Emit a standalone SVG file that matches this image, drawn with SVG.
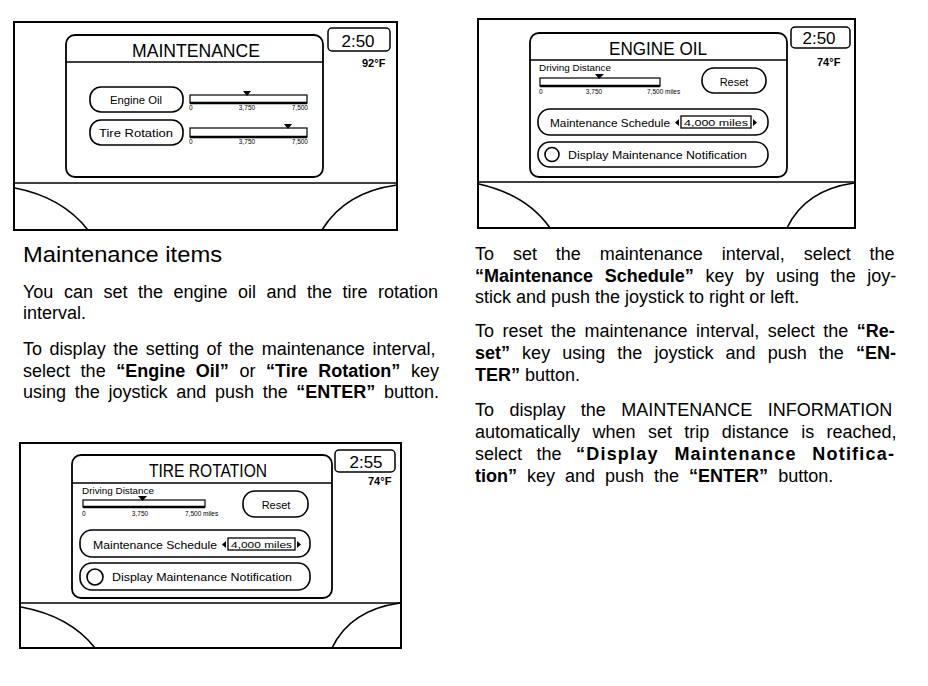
<svg xmlns="http://www.w3.org/2000/svg" width="928" height="686" viewBox="0 0 928 686">
<style>
text{font-family:"Liberation Sans",Arial,Helvetica,sans-serif;fill:#000}
.frame{fill:#fff;stroke:#000;stroke-width:2}
.panel{fill:none;stroke:#000;stroke-width:1.8}
.btn{fill:#fff;stroke:#000;stroke-width:1.6}
.ln{stroke:#000;stroke-width:1.6;fill:none}
.bar{fill:#fff;stroke:#000;stroke-width:1.2}
.barb{stroke:#000;stroke-width:2.4}
.clk{fill:#fff;stroke:#000;stroke-width:1.5}
.title{font-size:18px}
.time{font-size:17px}
.temp{font-size:11px;font-weight:bold}
.bt{font-size:11px}
.sm{font-size:6.5px}
.dd{font-size:9px}
.body{font-size:18px}
.head{font-size:22px}
.b{font-weight:bold}
</style>
<rect width="928" height="686" fill="#fff"/>

<g id="screen-maintenance">
  <rect class="frame" x="14" y="22" width="383" height="208"/>
  <line class="ln" x1="14" y1="183" x2="397" y2="183"/>
  <path class="ln" d="M15,188 Q62,197 88,230"/>
  <path class="ln" d="M322,230 Q345,192 397,185"/>
  <rect class="panel" x="66" y="35" width="257" height="142" rx="9"/>
  <line class="ln" x1="66" y1="62" x2="323" y2="62"/>
  <text class="title" x="196" y="57" text-anchor="middle" textLength="128" lengthAdjust="spacingAndGlyphs">MAINTENANCE</text>
  <rect class="clk" x="328" y="28" width="62" height="23" rx="4"/>
  <text class="time" x="358" y="47" text-anchor="middle">2:50</text>
  <text class="temp" x="362" y="67">92°F</text>
  <g id="btn-engine-oil">
    <rect class="btn" x="90" y="87" width="93" height="25" rx="11"/>
    <text class="bt" x="136" y="104" text-anchor="middle" textLength="52" lengthAdjust="spacingAndGlyphs">Engine Oil</text>
  </g>
  <g id="bar-engine-oil">
    <rect class="bar" x="190" y="95" width="117" height="8"/>
    <line class="barb" x1="190" y1="103" x2="307" y2="103"/>
    <polygon points="243,91 251,91 247,96"/>
    <text class="sm" x="189" y="110">0</text>
    <text class="sm" x="247" y="110" text-anchor="middle">3,750</text>
    <text class="sm" x="308" y="110" text-anchor="end">7,500</text>
  </g>
  <g id="btn-tire-rotation">
    <rect class="btn" x="90" y="120" width="93" height="25" rx="11"/>
    <text class="bt" x="136" y="137" text-anchor="middle" textLength="74" lengthAdjust="spacingAndGlyphs">Tire Rotation</text>
  </g>
  <g id="bar-tire-rotation">
    <rect class="bar" x="190" y="128" width="117" height="9"/>
    <line class="barb" x1="190" y1="137" x2="307" y2="137"/>
    <polygon points="284,124 292,124 288,129"/>
    <text class="sm" x="189" y="144">0</text>
    <text class="sm" x="247" y="144" text-anchor="middle">3,750</text>
    <text class="sm" x="308" y="144" text-anchor="end">7,500</text>
  </g>
</g>

<g id="screen-engine-oil">
  <rect class="frame" x="478" y="19" width="377" height="209"/>
  <line class="ln" x1="478" y1="182" x2="855" y2="182"/>
  <path class="ln" d="M479,184 Q527,195 550,228"/>
  <path class="ln" d="M787,228 Q805,190 854,183"/>
  <rect class="panel" x="530" y="33" width="257" height="144" rx="9"/>
  <line class="ln" x1="530" y1="60" x2="787" y2="60"/>
  <text class="title" x="658" y="55" text-anchor="middle" textLength="98" lengthAdjust="spacingAndGlyphs">ENGINE OIL</text>
  <rect class="clk" x="791" y="27" width="59" height="21" rx="4"/>
  <text class="time" x="819" y="44" text-anchor="middle">2:50</text>
  <text class="temp" x="817" y="66">74°F</text>
  <text class="dd" x="539" y="71" textLength="72" lengthAdjust="spacingAndGlyphs">Driving Distance</text>
  <g id="bar-eo">
    <rect class="bar" x="540" y="78" width="120" height="8"/>
    <line class="barb" x1="540" y1="86" x2="660" y2="86"/>
    <polygon points="595,74 604,74 599,79"/>
    <text class="sm" x="539" y="94">0</text>
    <text class="sm" x="594" y="94" text-anchor="middle">3,750</text>
    <text class="sm" x="647" y="94">7,500 miles</text>
  </g>
  <g id="btn-reset-eo">
    <rect class="btn" x="702" y="68" width="64" height="25" rx="12"/>
    <text class="bt" x="734" y="86" text-anchor="middle">Reset</text>
  </g>
  <g id="btn-schedule-eo">
    <rect class="btn" x="538" y="109" width="230" height="26" rx="12"/>
    <text class="bt" x="550" y="127" textLength="120" lengthAdjust="spacingAndGlyphs">Maintenance Schedule</text>
    <polygon points="679,119 679,126 675,122.5"/>
    <rect x="681" y="116" width="70" height="12" fill="#fff" stroke="#000" stroke-width="1.3"/>
    <text x="684" y="126" font-size="9.5px" textLength="64" lengthAdjust="spacingAndGlyphs">4,000 miles</text>
    <polygon points="753,119 753,126 757,122.5"/>
  </g>
  <g id="btn-notify-eo">
    <rect class="btn" x="538" y="142" width="230" height="25" rx="12"/>
    <circle cx="552" cy="154.5" r="7" fill="#fff" stroke="#000" stroke-width="1.6"/>
    <text class="bt" x="568" y="159" textLength="179" lengthAdjust="spacingAndGlyphs">Display Maintenance Notification</text>
  </g>
</g>

<g id="screen-tire-rotation">
  <rect class="frame" x="20" y="443" width="381" height="205"/>
  <line class="ln" x1="20" y1="603" x2="401" y2="603"/>
  <path class="ln" d="M21,607 Q70,616 95,648"/>
  <path class="ln" d="M332,648 Q350,610 400,603"/>
  <rect class="panel" x="72" y="455" width="260" height="143" rx="9"/>
  <line class="ln" x1="72" y1="483" x2="332" y2="483"/>
  <text class="title" x="208" y="477" text-anchor="middle" textLength="118" lengthAdjust="spacingAndGlyphs">TIRE ROTATION</text>
  <rect class="clk" x="335" y="450" width="60" height="22" rx="4"/>
  <text class="time" x="366" y="468" text-anchor="middle">2:55</text>
  <text class="temp" x="368" y="485">74°F</text>
  <text class="dd" x="82" y="494" textLength="72" lengthAdjust="spacingAndGlyphs">Driving Distance</text>
  <g id="bar-tr">
    <rect class="bar" x="83" y="500" width="122" height="7"/>
    <line class="barb" x1="83" y1="507" x2="205" y2="507"/>
    <polygon points="138,496 147,496 142.5,501"/>
    <text class="sm" x="82" y="516">0</text>
    <text class="sm" x="140" y="516" text-anchor="middle">3,750</text>
    <text class="sm" x="185" y="516">7,500 miles</text>
  </g>
  <g id="btn-reset-tr">
    <rect class="btn" x="243" y="491" width="65" height="26" rx="12"/>
    <text class="bt" x="276" y="509" text-anchor="middle">Reset</text>
  </g>
  <g id="btn-schedule-tr">
    <rect class="btn" x="80" y="530" width="230" height="27" rx="12"/>
    <text class="bt" x="93" y="549" textLength="124" lengthAdjust="spacingAndGlyphs">Maintenance Schedule</text>
    <polygon points="226,541 226,548 222,544.5"/>
    <rect x="228" y="538" width="67" height="12" fill="#fff" stroke="#000" stroke-width="1.3"/>
    <text x="231" y="548" font-size="9.5px" textLength="61" lengthAdjust="spacingAndGlyphs">4,000 miles</text>
    <polygon points="297,541 297,548 301,544.5"/>
  </g>
  <g id="btn-notify-tr">
    <rect class="btn" x="80" y="563" width="230" height="27" rx="12"/>
    <circle cx="95" cy="577" r="8" fill="#fff" stroke="#000" stroke-width="1.6"/>
    <text class="bt" x="112" y="581" textLength="180" lengthAdjust="spacingAndGlyphs">Display Maintenance Notification</text>
  </g>
</g>

<g id="text-left">
  <text class="head" x="23" y="262" textLength="199" lengthAdjust="spacingAndGlyphs">Maintenance items</text>
  <text class="body" x="23" y="298" word-spacing="5.5">You can set the engine oil and the tire rotation</text>
  <text class="body" x="23" y="319">interval.</text>
  <text class="body" x="23" y="355" word-spacing="2.6">To display the setting of the maintenance interval,</text>
  <text class="body" x="23" y="377" word-spacing="5.6">select the <tspan class="b">“Engine Oil”</tspan> or <tspan class="b">“Tire Rotation”</tspan> key</text>
  <text class="body" x="23" y="398" word-spacing="3.7">using the joystick and push the <tspan class="b">“ENTER”</tspan> button.</text>
</g>

<g id="text-right">
  <text class="body" x="475" y="260" word-spacing="13.9">To set the maintenance interval, select the</text>
  <text class="body" x="475" y="281.5" word-spacing="6.7"><tspan class="b">“Maintenance Schedule”</tspan> key by using the joy-</text>
  <text class="body" x="475" y="303">stick and push the joystick to right or left.</text>
  <text class="body" x="475" y="337" word-spacing="3.5">To reset the maintenance interval, select the <tspan class="b">“Re-</tspan></text>
  <text class="body" x="475" y="359" word-spacing="7.1"><tspan class="b">set”</tspan> key using the joystick and push the <tspan class="b">“EN-</tspan></text>
  <text class="body" x="475" y="381"><tspan class="b">TER”</tspan> button.</text>
  <text class="body" x="475" y="416" word-spacing="10.4">To display the MAINTENANCE INFORMATION</text>
  <text class="body" x="475" y="438" word-spacing="7.4">automatically when set trip distance is reached,</text>
  <text class="body" x="475" y="460" word-spacing="9.5">select the <tspan class="b" letter-spacing="1.2">“Display Maintenance Notifica-</tspan></text>
  <text class="body" x="475" y="482" word-spacing="5"><tspan class="b">tion”</tspan> key and push the <tspan class="b">“ENTER”</tspan> button.</text>
</g>
</svg>
